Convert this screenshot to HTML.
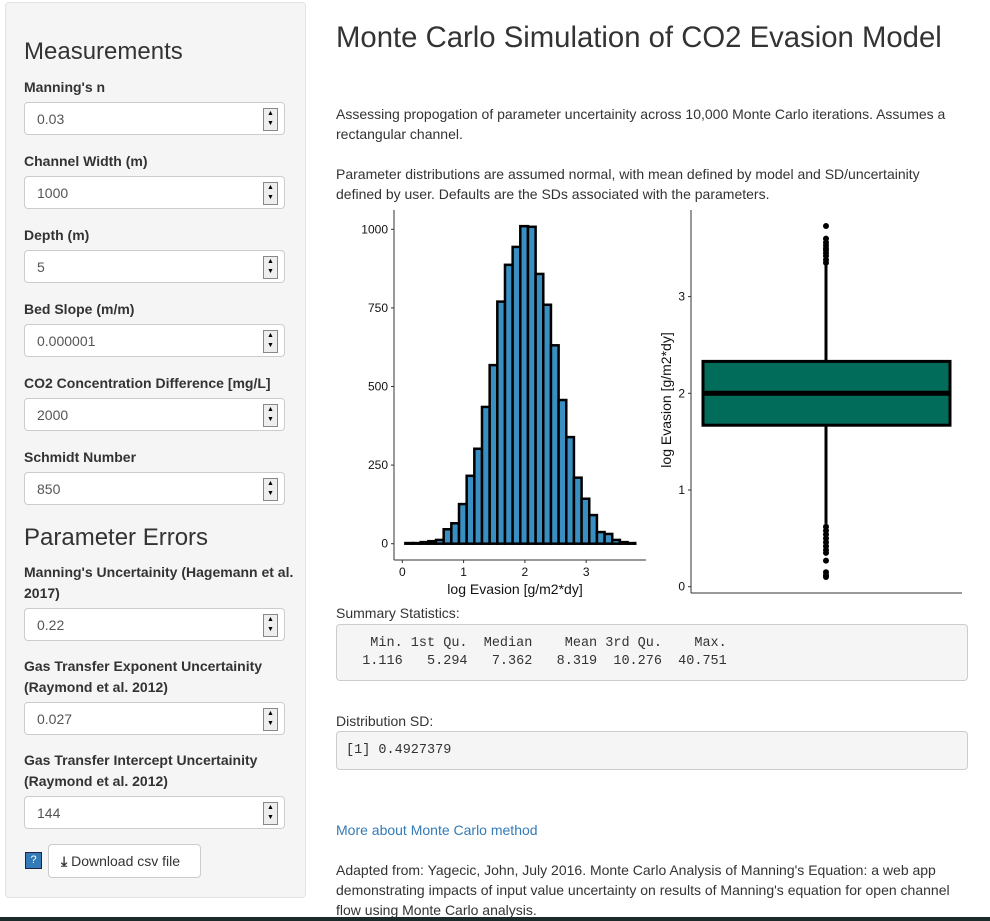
<!DOCTYPE html>
<html><head><meta charset="utf-8"><style>
body{margin:0;width:990px;height:921px;overflow:hidden;background:#fff;font-family:"Liberation Sans",sans-serif;color:#333;position:relative}
.a{position:absolute;white-space:nowrap}
.side{position:absolute;left:5px;top:2px;width:299px;height:894px;background:#f5f5f5;border:1px solid #e3e3e3;border-radius:4px}
.lbl{position:absolute;left:24px;font-size:14px;font-weight:bold;line-height:21px}
.inp{position:absolute;left:24px;width:261px;height:33px;background:#fff;border:1px solid #ccc;border-radius:4px;box-sizing:border-box;font-size:14px;color:#555;padding:8px 12px}
.spin{position:absolute;right:6px;top:5px;width:13px;height:21px;border:1px solid #888;background:#eee;font-size:7px;line-height:10px;text-align:center;color:#000}
.p{position:absolute;left:336px;font-size:14px;line-height:20px}
.pre{position:absolute;left:336px;width:632px;background:#f5f5f5;border:1px solid #ccc;border-radius:4px;box-sizing:border-box;font-family:"Liberation Mono",monospace;font-size:13.5px;line-height:18px;white-space:pre;padding:10px 9px}
</style></head><body>
<div class="side"></div>
<div class="a" style="left:24px;top:38px;font-size:24px;">Measurements</div>
<div class="lbl" style="top:77px">Manning's n</div>
<div class="inp" style="top:102px">0.03<div class="spin">▲<br>▼</div></div>
<div class="lbl" style="top:151px">Channel Width (m)</div>
<div class="inp" style="top:176px">1000<div class="spin">▲<br>▼</div></div>
<div class="lbl" style="top:225px">Depth (m)</div>
<div class="inp" style="top:250px">5<div class="spin">▲<br>▼</div></div>
<div class="lbl" style="top:299px">Bed Slope (m/m)</div>
<div class="inp" style="top:324px">0.000001<div class="spin">▲<br>▼</div></div>
<div class="lbl" style="top:373px">CO2 Concentration Difference [mg/L]</div>
<div class="inp" style="top:398px">2000<div class="spin">▲<br>▼</div></div>
<div class="lbl" style="top:447px">Schmidt Number</div>
<div class="inp" style="top:472px">850<div class="spin">▲<br>▼</div></div>
<div class="a" style="left:24px;top:524px;font-size:24px;">Parameter Errors</div>
<div class="lbl" style="top:562px;white-space:normal;width:270px">Manning's Uncertainity (Hagemann et al. 2017)</div>
<div class="inp" style="top:608px">0.22<div class="spin">▲<br>▼</div></div>
<div class="lbl" style="top:656px;white-space:normal;width:270px">Gas Transfer Exponent Uncertainity (Raymond et al. 2012)</div>
<div class="inp" style="top:702px">0.027<div class="spin">▲<br>▼</div></div>
<div class="lbl" style="top:750px;white-space:normal;width:270px">Gas Transfer Intercept Uncertainity (Raymond et al. 2012)</div>
<div class="inp" style="top:796px">144<div class="spin">▲<br>▼</div></div>
<div class="a" style="left:25px;top:852px;width:15px;height:15px;background:#337ab7;border:1px solid #224;color:#fff;font-size:11px;text-align:center;line-height:15px">?</div>
<div class="a" style="left:48px;top:844px;width:153px;height:34px;background:#fff;border:1px solid #ccc;border-radius:4px;box-sizing:border-box;font-size:14px;line-height:32px;padding-left:12px"><b>⤓</b> Download csv file</div>

<div class="a" style="left:336px;top:21px;font-size:29.3px;">Monte Carlo Simulation of CO2 Evasion Model</div>
<div class="p" style="top:104px;width:630px">Assessing propogation of parameter uncertainity across 10,000 Monte Carlo iterations. Assumes a<br>rectangular channel.</div>
<div class="p" style="top:164px;width:630px">Parameter distributions are assumed normal, with mean defined by model and SD/uncertainity<br>defined by user. Defaults are the SDs associated with the parameters.</div>

<svg class="a" style="left:0;top:0" width="990" height="921">
<g id="hist"></g>
<g id="box"></g>
</svg>

<div class="p" style="top:603px">Summary Statistics:</div>
<div class="pre" style="top:624px;height:57px">   Min. 1st Qu.  Median    Mean 3rd Qu.    Max. 
  1.116   5.294   7.362   8.319  10.276  40.751 </div>
<div class="p" style="top:711px">Distribution SD:</div>
<div class="pre" style="top:731px;height:39px">[1] 0.4927379</div>
<div class="p" style="top:820px;color:#337ab7">More about Monte Carlo method</div>
<div class="p" style="top:860px;width:640px;white-space:normal">Adapted from: Yagecic, John, July 2016. Monte Carlo Analysis of Manning's Equation: a web app demonstrating impacts of input value uncertainty on results of Manning's equation for open channel flow using Monte Carlo analysis.</div>
<div class="a" style="left:0;top:917px;width:990px;height:4px;background:#1c2a2a"></div>

<script>
const binStart = 0.05, binWidth = 0.125;
const counts = [2,2,5,8,12,46,65,126,216,302,435,568,770,887,944,1010,1008,858,760,631,457,339,210,143,91,37,31,12,5,2];
const histXTicks = [0,1,2,3];
const histYTicks = [0,250,500,750,1000];
const boxStats = {q1:1.67, median:2.0, q3:2.33, lo:0.65, hi:3.33};
const outliersHigh = [3.35,3.38,3.42,3.45,3.48,3.5,3.53,3.56,3.6,3.73];
const outliersLow = [0.62,0.58,0.54,0.5,0.46,0.42,0.38,0.35,0.27,0.15,0.12,0.1];
const boxYTicks = [0,1,2,3];
const NS='http://www.w3.org/2000/svg';
function mk(p,t,a){const e=document.createElementNS(NS,t);for(const k in a)e.setAttribute(k,a[k]);p.appendChild(e);return e;}
const hx=v=>402.3+v*61.3, hy=c=>543.7-c*0.3144;
const H=document.getElementById('hist');
counts.forEach((c,i)=>{const x0=hx(binStart+i*binWidth),x1=hx(binStart+(i+1)*binWidth);
const r=mk(H,'rect',{x:x0,y:hy(c),width:x1-x0,height:hy(0)-hy(c),fill:'#3a8fc2',stroke:'#000','stroke-width':2.5});

});
mk(H,'line',{x1:394,y1:210,x2:394,y2:560,stroke:'#333','stroke-width':1});
mk(H,'line',{x1:394,y1:560,x2:646,y2:560,stroke:'#333','stroke-width':1});
histYTicks.forEach(t=>{mk(H,'line',{x1:391,x2:394,y1:hy(t),y2:hy(t),stroke:'#333'});
const e=mk(H,'text',{x:388,y:hy(t)+4,'text-anchor':'end','font-size':12,fill:'#111'});e.textContent=t;

});
histXTicks.forEach(t=>{mk(H,'line',{x1:hx(t),x2:hx(t),y1:560,y2:563,stroke:'#333'});
const e=mk(H,'text',{x:hx(t),y:576,'text-anchor':'middle','font-size':12,fill:'#111'});e.textContent=t;

});
const xl=mk(H,'text',{x:515,y:594,'text-anchor':'middle','font-size':14,fill:'#111'});xl.textContent='log Evasion [g/m2*dy]';


const by=v=>586.7-v*96.7, bx0=703, bx1=950, bc=826;
const B=document.getElementById('box');
mk(B,'line',{x1:bc,x2:bc,y1:by(boxStats.hi),y2:by(boxStats.q3),stroke:'#000','stroke-width':3});
mk(B,'line',{x1:bc,x2:bc,y1:by(boxStats.q1),y2:by(boxStats.lo),stroke:'#000','stroke-width':3});
const br=mk(B,'rect',{x:bx0,y:by(boxStats.q3),width:bx1-bx0,height:by(boxStats.q1)-by(boxStats.q3),fill:'#026c5a',stroke:'#000','stroke-width':3});


mk(B,'line',{x1:bx0,x2:bx1,y1:by(boxStats.median),y2:by(boxStats.median),stroke:'#000','stroke-width':5});
outliersHigh.concat(outliersLow).forEach(v=>{const c=mk(B,'circle',{cx:bc,cy:by(v),r:3,fill:'#000'});

});
mk(B,'line',{x1:691,y1:210,x2:691,y2:593,stroke:'#333'});
mk(B,'line',{x1:691,y1:593,x2:962,y2:593,stroke:'#333'});
boxYTicks.forEach(t=>{mk(B,'line',{x1:688,x2:691,y1:by(t),y2:by(t),stroke:'#333'});
const e=mk(B,'text',{x:685,y:by(t)+4,'text-anchor':'end','font-size':12,fill:'#111'});e.textContent=t;

});
const yl=mk(B,'text',{x:0,y:0,'text-anchor':'middle','font-size':14,fill:'#111',transform:'translate(671,400) rotate(-90)'});yl.textContent='log Evasion [g/m2*dy]';


</script>
</body></html>
